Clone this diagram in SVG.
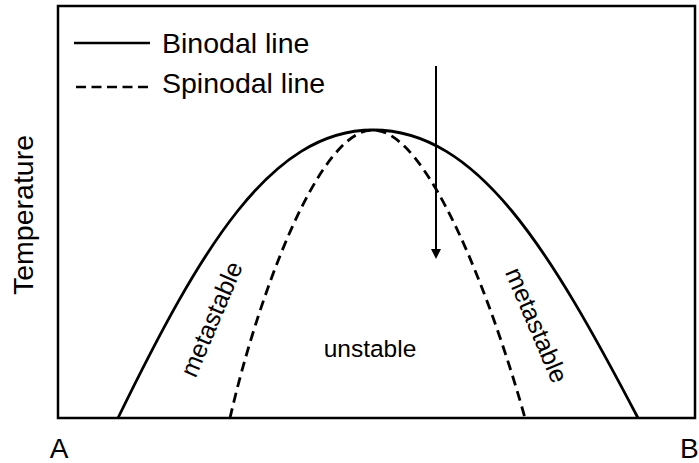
<svg xmlns="http://www.w3.org/2000/svg" width="699" height="463" viewBox="0 0 699 463">
<style>
.t{font-family:"Liberation Sans",Arial,sans-serif;fill:#000}
.bin{fill:none;stroke:#000;stroke-width:2.8}
.spi{fill:none;stroke:#000;stroke-width:2.8;stroke-dasharray:10 6}
</style>
<rect x="0" y="0" width="699" height="463" fill="#fff"/>
<g id="frame">
<rect x="58" y="6" width="637" height="412" fill="none" stroke="#000" stroke-width="2.5"/>
</g>
<g id="legend">
<line x1="74" y1="43" x2="150" y2="43" stroke="#000" stroke-width="2.5"/>
<text class="t" x="162" y="53" font-size="28.5">Binodal line</text>
<line x1="76" y1="87" x2="148" y2="87" stroke="#000" stroke-width="2.5" stroke-dasharray="10 5.5"/>
<text class="t" x="162" y="93" font-size="28.5">Spinodal line</text>
</g>
<g id="curves">
<path id="binodal" class="bin" d="M118,418 C200,250 270,130 373,130 C478,130 550,250 638,418"/>
<path id="spinodal" class="spi" d="M230,418 C257,300 318,130 373,130 C428,130 492,300 525,418"/>
</g>
<g id="connectors">
<line x1="436" y1="66" x2="436" y2="250" stroke="#000" stroke-width="2"/>
<path d="M431,249 L441,249 L436,259 Z" fill="#000"/>
</g>
<g id="labels">
<text class="t" font-size="28.5" text-anchor="middle" transform="translate(33,215) rotate(-90)">Temperature</text>
<text class="t" x="59" y="458" font-size="28" text-anchor="middle">A</text>
<text class="t" x="680" y="458" font-size="28">B</text>
<text class="t" x="370" y="357" font-size="24.5" text-anchor="middle">unstable</text>
<text class="t" font-size="25" text-anchor="middle" transform="translate(211,319) rotate(-67)" dy="0.36em">metastable</text>
<text class="t" font-size="25" text-anchor="middle" transform="translate(537,325) rotate(67)" dy="0.36em">metastable</text>
</g>
</svg>
